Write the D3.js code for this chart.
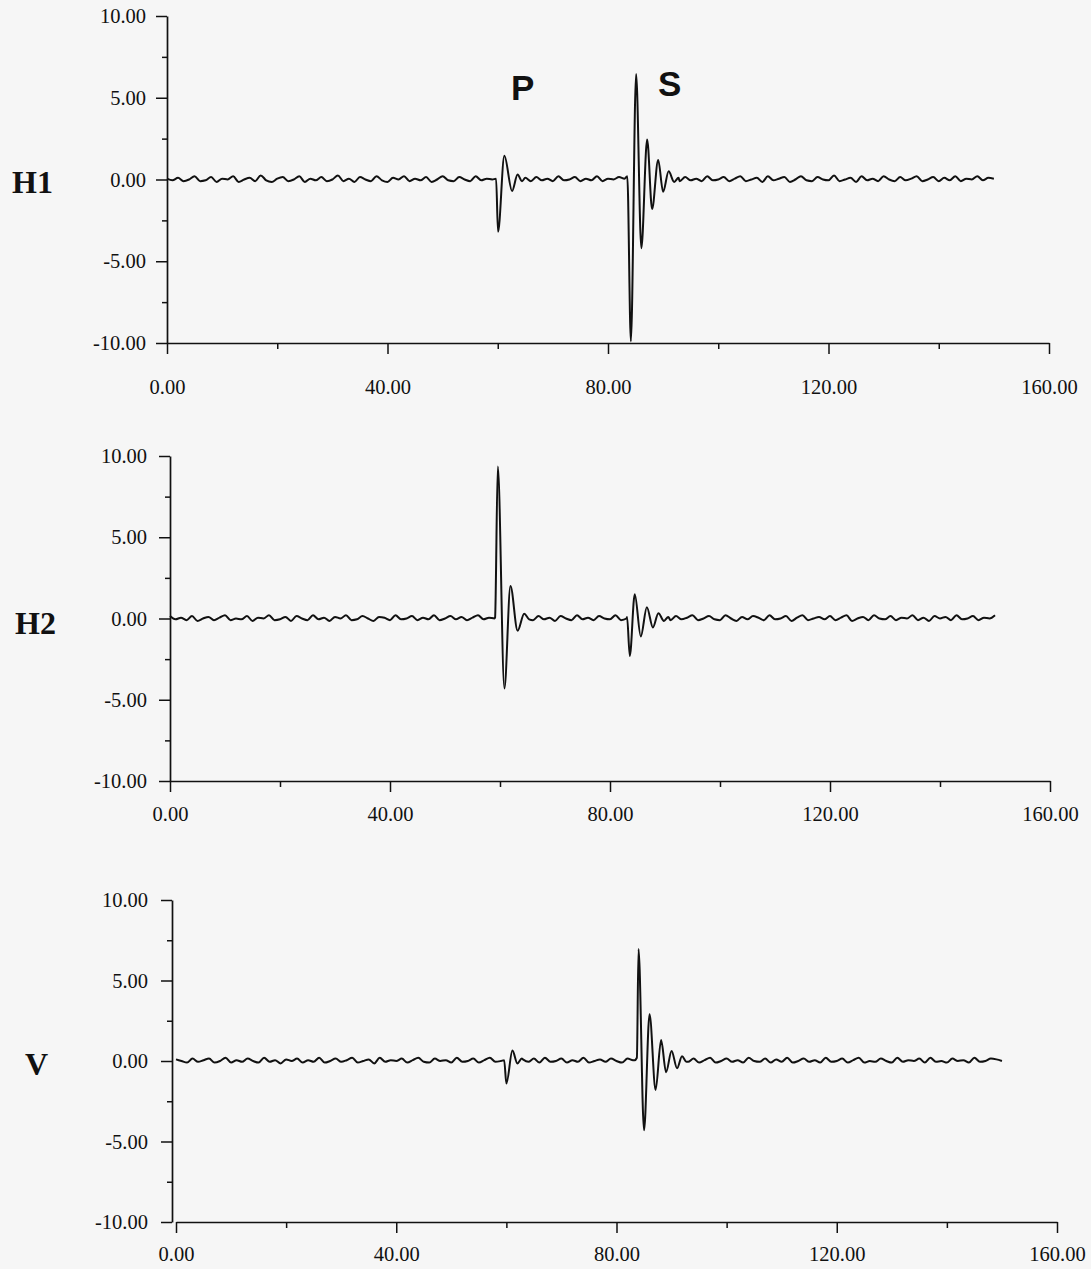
<!DOCTYPE html>
<html>
<head>
<meta charset="utf-8">
<script src="https://cdn.jsdelivr.net/npm/d3@7"></script>
<style>
  body { margin: 0; background: #f6f6f6; }
  svg { display: block; }
</style>
</head>
<body>
<div id="chart"></div>
<script>
// tick values
const xTicks = [0, 40, 80, 120, 160];
const xMinorTicks = [20, 60, 100, 140];
const yTicks = [-10, -5, 0, 5, 10];
const yMinorTicks = [-7.5, -2.5, 2.5, 7.5];
const channelNames = ["H1", "H2", "V"];
const phaseNames = ["P", "S"];

// background wiggle, one value per second (t = 0..150)
const h1Noise = [
  0.05, -0.05, 0.10, -0.10, 0.00, 0.20, -0.10, -0.05, 0.15, -0.15,
  0.05, 0.00, 0.20, -0.15, 0.00, 0.10, -0.10, 0.25, -0.05, -0.15,
  0.05, 0.15, -0.10, 0.00, 0.20, -0.15, 0.05, -0.05, 0.15, -0.10,
  0.00, 0.25, -0.10, 0.05, -0.15, 0.15, 0.00, -0.10, 0.20, -0.05,
  -0.15, 0.10, 0.00, 0.20, -0.10, 0.05, -0.05, 0.15, -0.15, 0.00,
  0.20, -0.05, -0.10, 0.15, 0.00, -0.10, 0.20, -0.05, 0.05, 0.00,
  0.00, 0.00, 0.00, 0.00, 0.00, 0.10, -0.10, 0.15, -0.05, 0.05,
  -0.10, 0.20, -0.05, 0.00, 0.15, -0.10, 0.05, -0.05, 0.20, -0.10,
  0.05, 0.00, 0.15, 0.10, 0.00, 0.00, 0.00, 0.00, 0.00, 0.00,
  0.00, 0.00, 0.00, -0.10, 0.15, -0.05, 0.05, -0.10, 0.20, -0.05,
  0.00, 0.15, -0.10, 0.05, 0.20, -0.10, 0.00, 0.10, -0.15, 0.20,
  -0.05, 0.05, 0.15, -0.15, 0.00, 0.20, -0.05, -0.10, 0.15, 0.00,
  -0.05, 0.25, -0.10, 0.00, 0.10, -0.15, 0.20, -0.05, 0.05, -0.10,
  0.20, 0.00, -0.10, 0.15, -0.05, 0.05, 0.20, -0.10, 0.00, 0.15,
  -0.10, 0.10, -0.05, 0.20, -0.10, 0.05, 0.00, 0.20, -0.05, 0.10,
  0.05
];
const h2Noise = [
  0.15, -0.05, 0.05, -0.10, 0.15, -0.15, 0.00, 0.10, -0.10, 0.05,
  0.20, -0.10, 0.00, -0.05, 0.15, -0.15, 0.05, 0.00, 0.20, -0.10,
  -0.05, 0.10, -0.15, 0.15, 0.00, -0.10, 0.20, -0.05, 0.05, -0.15,
  0.10, 0.00, 0.20, -0.10, -0.05, 0.15, 0.00, -0.15, 0.10, 0.05,
  -0.10, 0.20, -0.05, 0.00, 0.15, -0.10, 0.05, -0.05, 0.20, -0.10,
  0.00, 0.15, -0.05, 0.10, -0.10, 0.05, 0.20, -0.05, 0.05, 0.00,
  0.00, 0.00, 0.00, 0.00, 0.00, 0.00, -0.10, 0.15, -0.05, 0.05,
  -0.15, 0.15, 0.00, -0.10, 0.20, -0.05, 0.05, -0.10, 0.15, 0.00,
  -0.05, 0.20, -0.10, 0.00, 0.00, 0.00, 0.00, 0.00, 0.00, 0.00,
  0.00, -0.10, 0.15, -0.05, 0.05, 0.20, -0.10, 0.00, 0.15, -0.05,
  -0.10, 0.20, 0.00, -0.15, 0.10, -0.05, 0.15, 0.05, -0.10, 0.20,
  -0.05, 0.00, 0.15, -0.15, 0.05, 0.20, -0.10, 0.00, 0.10, -0.05,
  0.15, -0.10, 0.05, 0.20, -0.15, 0.00, 0.10, -0.10, 0.20, 0.00,
  -0.05, 0.15, -0.10, 0.05, 0.00, 0.20, -0.10, 0.05, -0.15, 0.15,
  0.00, 0.10, -0.10, 0.20, -0.05, 0.00, 0.15, -0.10, 0.05, 0.00,
  0.20
];
const vNoise = [
  0.10, 0.00, -0.10, 0.15, -0.05, 0.05, 0.15, -0.10, 0.00, 0.20,
  -0.10, 0.05, -0.05, 0.15, 0.00, -0.10, 0.20, -0.05, 0.05, -0.15,
  0.10, 0.00, 0.15, -0.10, 0.05, -0.05, 0.20, -0.10, 0.00, 0.15,
  -0.05, 0.05, 0.20, -0.10, 0.00, 0.10, -0.15, 0.20, -0.05, 0.05,
  0.00, 0.15, -0.10, 0.05, 0.20, -0.05, -0.10, 0.15, 0.00, 0.05,
  -0.10, 0.20, -0.05, 0.00, 0.15, -0.10, 0.05, 0.20, -0.05, 0.00,
  0.00, 0.00, 0.00, 0.10, -0.05, 0.15, -0.10, 0.20, -0.05, 0.00,
  0.15, -0.10, 0.05, -0.05, 0.20, -0.10, 0.00, 0.10, -0.05, 0.15,
  0.00, -0.10, 0.15, 0.05, 0.00, 0.00, 0.00, 0.00, 0.00, 0.00,
  0.00, 0.00, 0.00, -0.05, 0.15, -0.10, 0.05, 0.20, -0.10, 0.00,
  0.15, -0.05, 0.05, -0.10, 0.20, 0.00, -0.05, 0.15, -0.10, 0.10,
  -0.05, 0.20, -0.10, 0.00, 0.15, -0.05, 0.05, -0.10, 0.20, -0.05,
  0.00, 0.15, -0.10, 0.05, 0.20, -0.10, 0.00, -0.05, 0.15, 0.00,
  -0.10, 0.20, -0.05, 0.05, 0.00, 0.15, -0.10, 0.20, -0.05, 0.00,
  -0.10, 0.15, 0.00, 0.05, -0.10, 0.20, -0.05, 0.00, 0.15, 0.10,
  0.00
];

// arrivals as [time, amplitude]
const h1P = [[59.7, 0.05], [60.05, -3.2], [61.2, 1.45], [62.6, -0.7], [63.6, 0.3], [64.4, -0.1]];
const h1S = [[83.0, 0.05], [83.5, 0.2], [84.15, -9.9], [85.1, 6.45], [86.05, -4.2], [87.1, 2.45],
             [88.0, -1.8], [89.1, 1.2], [90.0, -0.75], [91.0, 0.5], [92.0, -0.15], [92.8, 0.1]];
const h2P = [[59.1, 0.05], [59.6, 9.35], [60.8, -4.3], [61.9, 2.0], [63.2, -0.75], [64.4, 0.3], [65.3, -0.05]];
const h2S = [[83.1, 0.1], [83.6, -2.3], [84.5, 1.5], [85.6, -1.1], [86.7, 0.7], [87.8, -0.55],
             [88.8, 0.33], [89.8, -0.15], [90.6, 0.1]];
const vP = [[59.6, 0.05], [60.0, -1.4], [61.1, 0.65], [62.0, -0.15], [62.8, 0.15]];
const vS = [[83.3, 0.05], [83.7, 0.2], [84.0, 6.95], [85.0, -4.3], [86.0, 2.9], [87.1, -1.8],
            [88.1, 1.3], [89.0, -0.7], [90.0, 0.62], [91.0, -0.45], [91.9, 0.3], [92.7, -0.05]];

const width = 1091, height = 1269;
const fmt = d => d.toFixed(2);

const panels = [
  { name: channelNames[0], noise: h1Noise, events: [h1P, h1S],
    ax: 167, x0: 167, x1: 1049, yTop: 16, yBot: 343, xPad: 25, yPad: 10, lx: 12, ly: 193 },
  { name: channelNames[1], noise: h2Noise, events: [h2P, h2S],
    ax: 170, x0: 170, x1: 1050, yTop: 456, yBot: 781, xPad: 14, yPad: 12, lx: 15, ly: 634 },
  { name: channelNames[2], noise: vNoise, events: [vP, vS],
    ax: 172, x0: 176, x1: 1057, yTop: 900, yBot: 1222, xPad: 13, yPad: 13, lx: 25, ly: 1075 }
];

function buildTrace(noise, events) {
  let pts = [];
  noise.forEach((v, t) => {
    let inside = events.some(ev => t >= ev[0][0] && t <= ev[ev.length - 1][0]);
    if (!inside) pts.push([t, v]);
  });
  events.forEach(ev => { pts = pts.concat(ev); });
  pts.sort((a, b) => a[0] - b[0]);
  return pts;
}

let svg = d3.select("#chart")
  .append("svg")
  .attr("width", width)
  .attr("height", height);

svg.append("rect")
  .attr("width", width)
  .attr("height", height)
  .attr("fill", "#f6f6f6");

panels.forEach((p, i) => {
  let x = d3.scaleLinear().domain([0, 160]).range([p.x0, p.x1]);
  let y = d3.scaleLinear().domain([-10, 10]).range([p.yBot, p.yTop]);
  let g = svg.append("g");

  // y axis
  let yAx = g.append("g")
    .attr("transform", `translate(${p.ax},0)`)
    .call(d3.axisLeft(y).tickValues(yTicks).tickFormat(fmt)
      .tickSize(11).tickSizeOuter(0).tickPadding(p.yPad));
  g.append("g")
    .attr("transform", `translate(${p.ax},0)`)
    .call(d3.axisLeft(y).tickValues(yMinorTicks).tickFormat("")
      .tickSize(5).tickSizeOuter(0))
    .select(".domain").remove();

  // x axis
  let xAx = g.append("g")
    .attr("transform", `translate(0,${p.yBot})`)
    .call(d3.axisBottom(x).tickValues(xTicks).tickFormat(fmt)
      .tickSize(11).tickSizeOuter(0).tickPadding(p.xPad));
  g.append("g")
    .attr("transform", `translate(0,${p.yBot})`)
    .call(d3.axisBottom(x).tickValues(xMinorTicks).tickFormat("")
      .tickSize(6).tickSizeOuter(0))
    .select(".domain").remove();

  g.selectAll(".domain").attr("stroke", "#111").attr("stroke-width", 1.7);
  g.selectAll(".tick line").attr("stroke", "#111").attr("stroke-width", 1.5);
  [yAx, xAx].forEach(a => a
    .attr("font-family", "'Liberation Serif', 'Times New Roman', serif")
    .attr("font-size", 20.5)
    .selectAll("text").attr("fill", "#111"));

  // channel name
  svg.append("text")
    .attr("x", p.lx)
    .attr("y", p.ly)
    .attr("font-family", "'Liberation Serif', 'Times New Roman', serif")
    .attr("font-weight", "bold")
    .attr("font-size", 32)
    .attr("fill", "#111")
    .text(p.name);

  // trace
  let line = d3.line()
    .x(d => x(d[0]))
    .y(d => y(d[1]))
    .curve(d3.curveMonotoneX);

  g.append("path")
    .datum(buildTrace(p.noise, p.events))
    .attr("d", line)
    .attr("fill", "none")
    .attr("stroke", "#111")
    .attr("stroke-width", 2)
    .attr("stroke-linejoin", "round");
});

// phase markers on the top trace
svg.selectAll(".phase")
  .data(phaseNames)
  .enter()
  .append("text")
  .attr("class", "phase")
  .attr("x", (d, i) => i === 0 ? 511 : 658)
  .attr("y", (d, i) => i === 0 ? 100 : 96)
  .attr("font-family", "'Liberation Sans', Arial, sans-serif")
  .attr("font-weight", "bold")
  .attr("font-size", 35)
  .attr("fill", "#111")
  .text(d => d);
</script>
</body>
</html>
